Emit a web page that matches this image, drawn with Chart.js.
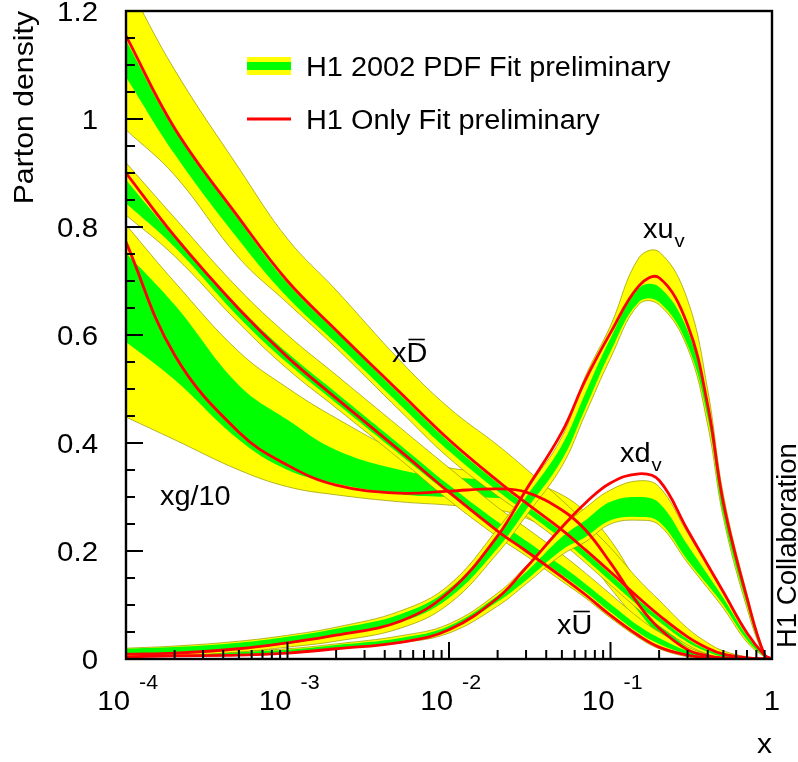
<!DOCTYPE html>
<html><head><meta charset="utf-8">
<script src="https://cdn.jsdelivr.net/npm/chart.js@4.4.1/dist/chart.umd.min.js"></script>
<style>html,body{margin:0;padding:0;background:#fff;}canvas{display:block;}</style>
</head><body>
<canvas id="c" width="798" height="762"></canvas>
<script>
// ---- data (x grid shared by all curves) ----
const xValues = [1e-4,2e-4,5e-4,1e-3,2e-3,5e-3,1e-2,2e-2,3e-2,5e-2,0.07,0.1,0.15,0.2,0.3,0.4,0.5,0.7,0.9,1.0];

// xDbar
const dbarRed      = [1.154,0.983,0.817,0.700,0.609,0.493,0.406,0.330,0.289,0.239,0.202,0.161,0.113,0.081,0.041,0.020,0.009,0.002,0,0];
const dbarYellowHi = [1.256,1.091,0.909,0.778,0.683,0.552,0.465,0.396,0.352,0.294,0.252,0.206,0.146,0.109,0.057,0.030,0.015,0.004,0,0];
const dbarYellowLo = [0.980,0.896,0.743,0.659,0.576,0.459,0.372,0.302,0.265,0.215,0.178,0.137,0.091,0.061,0.026,0.009,0.002,0,0,0];
const dbarGreenHi  = [1.146,0.980,0.813,0.696,0.606,0.489,0.402,0.326,0.285,0.235,0.198,0.157,0.109,0.078,0.037,0.017,0.007,0.002,0,0];
const dbarGreenLo  = [1.078,0.935,0.776,0.670,0.585,0.470,0.385,0.311,0.272,0.222,0.185,0.144,0.098,0.069,0.031,0.013,0.004,0,0,0];

// xUbar
const ubarRed      = [0.900,0.783,0.648,0.559,0.483,0.385,0.309,0.237,0.200,0.152,0.119,0.081,0.043,0.022,0.007,0.002,0,0,0,0];
const ubarYellowHi = [0.919,0.817,0.685,0.600,0.526,0.428,0.354,0.281,0.243,0.194,0.159,0.120,0.076,0.050,0.022,0.009,0.004,0,0,0];
const ubarYellowLo = [0.822,0.746,0.622,0.537,0.465,0.369,0.294,0.226,0.191,0.144,0.113,0.076,0.039,0.019,0.004,0,0,0,0,0];
const ubarGreenHi  = [0.887,0.781,0.652,0.567,0.493,0.396,0.322,0.254,0.219,0.172,0.139,0.102,0.061,0.039,0.015,0.006,0.002,0,0,0];
const ubarGreenLo  = [0.844,0.763,0.633,0.548,0.474,0.378,0.306,0.237,0.202,0.156,0.124,0.087,0.048,0.028,0.009,0.002,0,0,0,0];

// xg/10
const gluonRed      = [0.772,0.563,0.420,0.359,0.322,0.307,0.311,0.315,0.309,0.276,0.239,0.178,0.100,0.057,0.017,0.006,0.002,0,0,0];
const gluonYellowHi = [0.804,0.698,0.569,0.502,0.446,0.383,0.354,0.346,0.331,0.304,0.272,0.220,0.137,0.087,0.031,0.013,0.004,0,0,0];
const gluonYellowLo = [0.448,0.406,0.350,0.319,0.304,0.291,0.285,0.276,0.261,0.226,0.189,0.131,0.069,0.035,0.009,0.004,0,0,0,0];
const gluonGreenHi  = [0.752,0.656,0.507,0.443,0.387,0.350,0.337,0.330,0.317,0.287,0.254,0.198,0.117,0.070,0.022,0.007,0.002,0,0,0];
const gluonGreenLo  = [0.587,0.517,0.406,0.350,0.325,0.305,0.300,0.298,0.287,0.257,0.220,0.161,0.087,0.046,0.013,0.004,0,0,0,0];

// xu_v
const uvRed      = [0.009,0.011,0.019,0.030,0.044,0.070,0.124,0.228,0.313,0.420,0.517,0.604,0.691,0.706,0.619,0.470,0.289,0.113,0.007,0];
const uvYellowHi = [0.020,0.024,0.033,0.044,0.059,0.089,0.137,0.241,0.313,0.411,0.524,0.617,0.743,0.754,0.665,0.498,0.304,0.120,0.009,0];
const uvYellowLo = [0.004,0.006,0.013,0.022,0.033,0.057,0.102,0.196,0.265,0.357,0.454,0.557,0.657,0.656,0.576,0.433,0.261,0.094,0.004,0];
const uvGreenHi  = [0.019,0.022,0.030,0.041,0.056,0.083,0.130,0.228,0.300,0.396,0.493,0.594,0.687,0.689,0.609,0.470,0.285,0.113,0.007,0];
const uvGreenLo  = [0.007,0.011,0.019,0.028,0.043,0.068,0.113,0.205,0.276,0.369,0.465,0.569,0.661,0.661,0.581,0.446,0.267,0.100,0.004,0];

// xd_v
const dvRed      = [0.004,0.006,0.007,0.011,0.019,0.031,0.054,0.113,0.169,0.244,0.289,0.326,0.343,0.331,0.239,0.174,0.124,0.048,0.007,0];
const dvYellowHi = [0.009,0.011,0.015,0.019,0.028,0.043,0.065,0.122,0.172,0.243,0.280,0.313,0.330,0.319,0.233,0.172,0.122,0.048,0.007,0];
const dvYellowLo = [0.004,0.006,0.007,0.011,0.019,0.030,0.048,0.098,0.139,0.193,0.217,0.250,0.257,0.248,0.178,0.131,0.094,0.031,0.004,0];
const dvGreenHi  = [0.007,0.009,0.013,0.017,0.026,0.039,0.061,0.117,0.161,0.226,0.257,0.291,0.300,0.289,0.211,0.156,0.113,0.043,0.006,0];
const dvGreenLo  = [0.006,0.007,0.009,0.013,0.020,0.033,0.054,0.106,0.146,0.202,0.226,0.257,0.263,0.254,0.183,0.137,0.100,0.035,0.004,0];

// ticks / labels
const yTickValues = [0,0.2,0.4,0.6,0.8,1.0,1.2];
const yTickLabels = ['0','0.2','0.4','0.6','0.8','1','1.2'];
const xTickValues = [1e-4,1e-3,1e-2,1e-1,1];
const xTickExponents = ['-4','-3','-2','-1',''];
const legendLabels = ['H1 2002 PDF Fit preliminary','H1 Only Fit preliminary'];

// ---- styling ----
const YELLOW = '#ffff00', GREEN = '#00ff00', RED = '#ff0000', EDGE = 'rgba(150,150,0,0.9)', NONE = 'rgba(0,0,0,0)';
const FONT = '"Liberation Sans", Arial, Helvetica, sans-serif';
const TENSION = 0.4;

function pts(arr){ return xValues.map((x,i)=>({x:x, y:arr[i]})); }
const datasets = [];
function addBand(hi, lo, color, order, edge){
  const common = {pointRadius:0, pointHoverRadius:0, tension:TENSION, borderColor: edge?EDGE:NONE, borderWidth: edge?0.8:1, backgroundColor: color};
  datasets.push(Object.assign({data: pts(hi), fill: '+1', order: order}, common));
  datasets.push(Object.assign({data: pts(lo), fill: false, order: order-0.5}, common));
}
addBand(gluonYellowHi, gluonYellowLo, YELLOW, 100, true);
addBand(gluonGreenHi,  gluonGreenLo,  GREEN,  99, false);
addBand(ubarYellowHi,  ubarYellowLo,  YELLOW, 90, true);
addBand(ubarGreenHi,   ubarGreenLo,   GREEN,  89, false);
addBand(dbarYellowHi,  dbarYellowLo,  YELLOW, 80, true);
addBand(dbarGreenHi,   dbarGreenLo,   GREEN,  79, false);
addBand(dvYellowHi,    dvYellowLo,    YELLOW, 70, true);
addBand(dvGreenHi,     dvGreenLo,     GREEN,  69, false);
addBand(uvYellowHi,    uvYellowLo,    YELLOW, 60, true);
addBand(uvGreenHi,     uvGreenLo,     GREEN,  59, false);
[gluonRed, ubarRed, dbarRed, dvRed, uvRed].forEach((r,i)=>{
  datasets.push({data: pts(r), fill:false, borderColor: RED, borderWidth: 2.8, order: 5-i, pointRadius:0, pointHoverRadius:0, tension:TENSION});
});

function txt(ctx, s, x, y, size, align, rot, sx){
  ctx.save(); ctx.translate(x,y); if(rot) ctx.rotate(rot); ctx.scale(sx||1,1);
  ctx.font = size+'px '+FONT; ctx.textAlign = align||'left'; ctx.textBaseline='alphabetic'; ctx.fillStyle='#000';
  ctx.fillText(s,0,0); ctx.restore();
}
function width(ctx, s, size, sx){ ctx.save(); ctx.font = size+'px '+FONT; const w = ctx.measureText(s).width*(sx||1); ctx.restore(); return w; }

const framePlugin = {
  id:'frame',
  afterDraw(chart){
    const ctx = chart.ctx, xs = chart.scales.x, ys = chart.scales.y, a = chart.chartArea;
    ctx.save();
    ctx.strokeStyle = '#000'; ctx.lineWidth = 2;
    // y ticks (inside)
    for(let i=0;i<=24;i++){
      const v = i*0.05, py = Math.round(ys.getPixelForValue(v));
      const len = (i%4===0)?17:9;
      ctx.beginPath(); ctx.moveTo(a.left, py); ctx.lineTo(a.left+len, py); ctx.stroke();
    }
    // x ticks (inside, log)
    for(let d=-4; d<=0; d++){
      for(let k=1;k<=9;k++){
        const v = k*Math.pow(10,d); if(v>1.0000001) break;
        const px = xs.getPixelForValue(v);
        const len = (k===1)?17:9;
        ctx.beginPath(); ctx.moveTo(px, a.bottom); ctx.lineTo(px, a.bottom-len); ctx.stroke();
      }
    }
    // frame
    ctx.lineWidth = 2.4;
    ctx.strokeRect(a.left, a.top, a.right-a.left, a.bottom-a.top);
    // y labels
    const SX = 1.07;
    yTickValues.forEach((v,i)=>{
      const py = ys.getPixelForValue(v);
      txt(ctx, yTickLabels[i], 98, py+10, 27.5, 'right', 0, SX);
    });
    // x labels
    xTickValues.forEach((v,i)=>{
      const px = xs.getPixelForValue(v);
      if(xTickExponents[i]===''){
        txt(ctx, '1', px, 710, 27.5, 'center', 0, SX);
      } else {
        txt(ctx, '10', px+4, 710, 27.5, 'right', 0, SX);
        txt(ctx, xTickExponents[i], px+13, 689, 20, 'left', 0, SX);
      }
    });
    // axis titles
    txt(ctx, 'x', a.right, 753, 28, 'right', 0, SX);
    txt(ctx, 'Parton density', 33, a.top, 28, 'right', -Math.PI/2, 1.08);
    txt(ctx, 'H1 Collaboration', 796, 648, 27.5, 'left', -Math.PI/2, 1.0);
    // legend
    ctx.fillStyle = YELLOW; ctx.fillRect(247, 57, 44, 18);
    ctx.fillStyle = GREEN; ctx.fillRect(247, 62, 44, 8);
    txt(ctx, legendLabels[0], 306, 76, 27, 'left', 0, SX);
    ctx.strokeStyle = RED; ctx.lineWidth = 3;
    ctx.beginPath(); ctx.moveTo(247,119); ctx.lineTo(291,119); ctx.stroke();
    txt(ctx, legendLabels[1], 306, 129, 27, 'left', 0, SX);
    // curve labels
    ctx.strokeStyle = '#000'; ctx.lineWidth = 1.6;
    const bar = (x0, base, letter)=>{
      const wx = width(ctx,'x',27,SX), wl = width(ctx,letter,27,SX);
      txt(ctx, 'x'+letter, x0, base, 27, 'left', 0, SX);
      ctx.beginPath(); ctx.moveTo(x0+wx+2, base-22.5); ctx.lineTo(x0+wx+wl-2.5, base-22.5); ctx.stroke();
    };
    bar(392, 362, 'D');
    bar(557, 634, 'U');
    txt(ctx, 'xg/10', 160, 505, 27, 'left', 0, SX);
    txt(ctx, 'xu', 643, 238, 27, 'left', 0, SX);
    txt(ctx, 'v', 643+width(ctx,'xu',27,SX)+1, 247, 19, 'left', 0, SX);
    txt(ctx, 'xd', 620, 462, 27, 'left', 0, SX);
    txt(ctx, 'v', 620+width(ctx,'xd',27,SX)+1, 471, 19, 'left', 0, SX);
    ctx.restore();
  }
};

new Chart(document.getElementById('c').getContext('2d'), {
  type:'line',
  data:{datasets: datasets},
  options:{
    responsive:false, animation:false, devicePixelRatio:1, events:[],
    layout:{padding:{left:126, top:11, right:26, bottom:103}},
    scales:{
      x:{type:'logarithmic', min:1e-4, max:1, display:false},
      y:{type:'linear', min:0, max:1.2, display:false}
    },
    plugins:{legend:{display:false}, tooltip:{enabled:false}}
  },
  plugins:[framePlugin]
});
</script>
</body></html>
